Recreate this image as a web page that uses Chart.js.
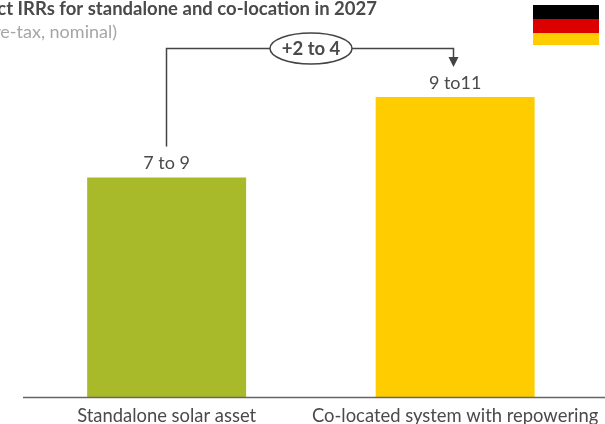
<!DOCTYPE html>
<html>
<head>
<meta charset="utf-8">
<script src="https://cdn.jsdelivr.net/npm/chart.js@4"></script>
<style>
  html, body { margin: 0; padding: 0; background: #fff; overflow: hidden; }
  #wrap { width: 605px; height: 424px; }
</style>
</head>
<body>
<div id="wrap"><canvas id="irrChart"></canvas></div>
<script>
const categories = ["Standalone solar asset", "Co-located system with repowering"];
const barValues = [8.05, 11];
const barLabels = ["7 to 9", "9 to11"];
const barColors = ["#A8B92A", "#FFCC00"];
const upliftLabel = "+2 to 4";
const titleText = "Project IRRs for standalone and co-location in 2027";
const subtitleText = "(pre-tax, nominal)";
const flagColors = ["#000000", "#DD0000", "#FFCC00"];

const textDark = "#4a4a4a";
const lineDark = "#444444";

// everything the axes don't draw: titles, baseline, value labels, bracket, flag
const annotations = {
  id: "annotations",
  afterDatasetsDraw(chart) {
    const ctx = chart.ctx;
    const bars = chart.getDatasetMeta(0).data;
    const baseY = chart.scales.y.getPixelForValue(0);
    ctx.save();

    // title is cut off on the left in the reference, so right-align it
    ctx.textAlign = "right";
    ctx.textBaseline = "middle";
    ctx.fillStyle = textDark;
    ctx.font = "bold 18.5px Lato";
    ctx.fillText(titleText, 377, 9);
    ctx.fillStyle = "#a6a6a6";
    ctx.font = "18px Lato";
    ctx.fillText(subtitleText, 117, 32);

    // baseline
    ctx.strokeStyle = "#666666";
    ctx.lineWidth = 1.5;
    ctx.beginPath();
    ctx.moveTo(23, baseY + 0.5);
    ctx.lineTo(605, baseY + 0.5);
    ctx.stroke();

    // value labels
    ctx.textAlign = "center";
    ctx.textBaseline = "middle";
    ctx.fillStyle = textDark;
    ctx.font = "18px Lato";
    bars.forEach((bar, i) => ctx.fillText(barLabels[i], bar.x, bar.y - 14));

    // bracket
    const x1 = Math.round(bars[0].x) - 0.5;
    const x2 = Math.round(bars[1].x) - 1.5;
    const bracketY = 48.5;
    ctx.strokeStyle = lineDark;
    ctx.lineWidth = 1.5;
    ctx.beginPath();
    ctx.moveTo(x1, bars[0].y - 31);
    ctx.lineTo(x1, bracketY);
    ctx.lineTo(x2, bracketY);
    ctx.lineTo(x2, 58);
    ctx.stroke();
    ctx.fillStyle = lineDark;
    ctx.beginPath();
    ctx.moveTo(x2 - 5, 57);
    ctx.lineTo(x2 + 5, 57);
    ctx.lineTo(x2, 67);
    ctx.closePath();
    ctx.fill();

    // oval with the uplift
    ctx.fillStyle = "#ffffff";
    ctx.beginPath();
    ctx.ellipse(311, bracketY, 41, 15.5, 0, 0, Math.PI * 2);
    ctx.fill();
    ctx.stroke();
    ctx.fillStyle = textDark;
    ctx.font = "bold 18.5px Lato";
    ctx.fillText(upliftLabel, 311, bracketY + 0.5);

    // flag
    ctx.fillStyle = flagColors[0];
    ctx.fillRect(533, 5, 66, 14);
    ctx.fillStyle = flagColors[1];
    ctx.fillRect(533, 19, 66, 14);
    ctx.fillStyle = flagColors[2];
    ctx.fillRect(533, 33, 66, 12);

    ctx.restore();
  }
};

new Chart(document.getElementById("irrChart"), {
  type: "bar",
  data: {
    labels: categories,
    datasets: [{
      data: barValues,
      backgroundColor: barColors,
      categoryPercentage: 1,
      barPercentage: 0.551
    }]
  },
  options: {
    responsive: true,
    maintainAspectRatio: false,
    animation: false,
    layout: { padding: { left: 22.4, right: 5.6, top: 0, bottom: 0 } },
    plugins: { legend: { display: false }, tooltip: { enabled: false } },
    scales: {
      x: {
        grid: { display: false },
        border: { display: false },
        afterFit(scale) { scale.height = 27; },
        ticks: {
          color: textDark,
          font: { family: "Lato", size: 18.4 },
          autoSkip: false,
          maxRotation: 0,
          padding: 0
        }
      },
      y: { display: false, min: 0, max: 14.56 }
    }
  },
  plugins: [annotations]
});
</script>
</body>
</html>
